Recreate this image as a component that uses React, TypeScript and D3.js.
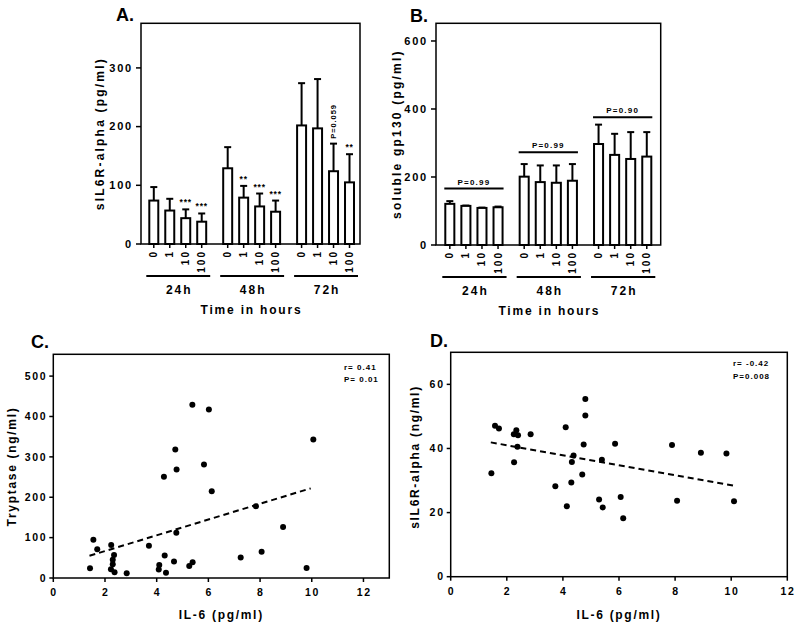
import React from "react";
import * as d3 from "d3";

// ---------- data ----------
const timepoints = ["24h", "48h", "72h"];
const concentrations = ["0", "1", "10", "100"];

const sil6rMean = [
  [74, 57, 44, 38],
  [129, 79, 64, 55],
  [202, 197, 124, 105],
];
const sil6rUpper = [
  [97, 77, 59, 52],
  [165, 99, 86, 74],
  [274, 281, 171, 153],
];
const sil6rMarks = [
  ["", "", "***", "***"],
  ["", "**", "***", "***"],
  ["", "", "P=0.059", "**"],
];
const sil6rTicks = [0, 100, 200, 300];

const gp130Mean = [
  [121, 115, 109, 111],
  [201, 185, 183, 189],
  [297, 265, 253, 260],
];
const gp130Upper = [
  [129, 116, 110, 113],
  [238, 234, 234, 238],
  [354, 327, 332, 332],
];
const gp130P = ["P=0.99", "P=0.99", "P=0.90"];
const gp130PLevel = [166, 273, 376];
const gp130Ticks = [0, 200, 400, 600];

const il6C = [1.42, 1.55, 1.7, 2.24, 2.35, 2.3, 2.3, 2.23, 2.37, 2.84, 3.7, 4.08, 4.1, 4.28, 4.31, 4.36, 4.67, 4.72, 4.77, 4.76, 5.26, 5.39, 5.38, 5.83, 6.02, 6.13, 7.25, 7.84, 8.06, 8.89, 9.8, 10.06];
const tryptase = [24, 95, 71, 82, 57, 45, 34, 21.5, 14, 12, 80, 21, 32, 251, 56, 13, 41, 318, 269, 112, 30, 39, 429, 281, 417, 215, 51, 178, 65, 126, 25, 343];
const fitCX = [1.4, 9.96];
const fitCY = [55, 222];
const tryptaseTicks = [0, 100, 200, 300, 400, 500];

const il6D = [1.58, 1.72, 2.34, 2.25, 2.4, 2.85, 2.38, 2.26, 1.45, 3.73, 4.1, 4.14, 4.3, 4.32, 4.38, 4.69, 4.74, 4.8, 4.8, 5.29, 5.39, 5.42, 5.86, 6.06, 6.15, 7.89, 8.07, 8.92, 9.83, 10.1];
const sil6rD = [47.1, 46.2, 45.7, 44.4, 44.1, 44.4, 40.5, 35.7, 32.3, 28.2, 46.6, 22.0, 29.4, 35.8, 37.8, 31.9, 41.2, 50.3, 55.4, 24.1, 36.5, 21.6, 41.5, 24.9, 18.2, 41.1, 23.7, 38.7, 38.4, 23.5];
const fitDX = [1.43, 10.08];
const fitDY = [41.9, 28.4];
const sil6rDTicks = [0, 20, 40, 60];

const il6Ticks = [0, 2, 4, 6, 8, 10, 12];

// ---------- style ----------
const FONT = "'Liberation Sans', Arial, sans-serif";

type BarProps = {
  left: number; right: number; top: number; bottom: number;
  barStart: number; barEnd: number; yMax: number; ticks: number[];
  means: number[][]; uppers: number[][];
  title: string; titleX: number; titleY: number;
  yLabel: string; yLabelX: number;
  marks?: string[][];
  pLabels?: string[]; pLevels?: number[];
};

function BarPanel(p: BarProps) {
  const y = d3.scaleLinear().domain([0, p.yMax]).range([p.bottom, p.top]);
  const gx = d3.scaleBand<string>().domain(timepoints).range([p.barStart, p.barEnd]).paddingInner(0.23).paddingOuter(0);
  const bx = d3.scaleBand<string>().domain(concentrations).range([0, gx.bandwidth()]).paddingInner(0.4375).paddingOuter(0);
  const bw = bx.bandwidth();
  const cx = (t: string, c: string) => (gx(t) as number) + (bx(c) as number) + bw / 2;
  const lineY = p.bottom + 32;
  return (
    <g fontFamily={FONT} fontWeight="bold">
      <text x={p.titleX} y={p.titleY} fontSize={18}>{p.title}</text>
      {timepoints.map((t, gi) =>
        concentrations.map((c, ci) => {
          const m = p.means[gi][ci];
          const u = p.uppers[gi][ci];
          const xc = cx(t, c);
          const mk = p.marks ? p.marks[gi][ci] : "";
          return (
            <g key={t + c}>
              <line x1={xc} x2={xc} y1={y(m)} y2={y(u)} stroke="#000" strokeWidth={2} />
              <line x1={xc - 3.5} x2={xc + 3.5} y1={y(u)} y2={y(u)} stroke="#000" strokeWidth={2} />
              <rect x={xc - bw / 2} y={y(m)} width={bw} height={p.bottom - y(m)} fill="#fff" stroke="#000" strokeWidth={2} />
              {mk && (mk.startsWith("P") ? (
                <text transform={`translate(${xc},${y(u) - 5}) rotate(-90)`} dy="0.35em" fontSize={7.5} letterSpacing={0.9} fill="#000" textAnchor="start">{mk}</text>
              ) : (
                <text x={xc} y={y(u) - 4} fontSize={8.5} letterSpacing={0.8} fill="#000" textAnchor="middle">{mk}</text>
              ))}
            </g>
          );
        })
      )}
      {p.pLabels && p.pLevels && timepoints.map((t, gi) => {
        const x1 = gx(t) as number;
        const x2 = x1 + gx.bandwidth();
        const yy = y(p.pLevels![gi]);
        return (
          <g key={"p" + t}>
            <line x1={x1 - 1} x2={x2 + 1} y1={yy} y2={yy} stroke="#000" strokeWidth={2} />
            <text x={(x1 + x2) / 2} y={yy - 4} fontSize={8} letterSpacing={1.2} textAnchor="middle">{p.pLabels![gi]}</text>
          </g>
        );
      })}
      <rect x={p.left} y={p.top} width={p.right - p.left} height={p.bottom - p.top} fill="none" stroke="#000" strokeWidth={1.5} />
      {p.ticks.map((v) => (
        <g key={"yt" + v}>
          <line x1={p.left - 5} x2={p.left} y1={y(v)} y2={y(v)} stroke="#000" strokeWidth={1.5} />
          <text x={p.left - 8} y={y(v)} dy="0.35em" fontSize={11} letterSpacing={1.8} textAnchor="end">{v}</text>
        </g>
      ))}
      {timepoints.map((t) =>
        concentrations.map((c) => {
          const xc = cx(t, c);
          return (
            <g key={"xt" + t + c}>
              <line x1={xc} x2={xc} y1={p.bottom} y2={p.bottom + 4} stroke="#000" strokeWidth={1.5} />
              <text transform={`translate(${xc},${p.bottom + 6}) rotate(-90)`} dy="0.35em" fontSize={10} letterSpacing={2} textAnchor="end">{c}</text>
            </g>
          );
        })
      )}
      {timepoints.map((t) => {
        const x1 = (gx(t) as number) - 3;
        const x2 = (gx(t) as number) + gx.bandwidth() + 4;
        return (
          <g key={"gl" + t}>
            <line x1={x1} x2={x2} y1={lineY} y2={lineY} stroke="#000" strokeWidth={2} />
            <text x={(x1 + x2) / 2 + 1} y={lineY + 18} fontSize={12} letterSpacing={2} textAnchor="middle">{t}</text>
          </g>
        );
      })}
      <text x={(p.left + p.right) / 2 + 1} y={p.bottom + 70} fontSize={12} letterSpacing={1.8} textAnchor="middle">Time in hours</text>
      <text transform={`translate(${p.yLabelX},${(p.top + p.bottom) / 2}) rotate(-90)`} dy="0.35em" fontSize={12} letterSpacing={2.2} textAnchor="middle">{p.yLabel}</text>
    </g>
  );
}

type ScatterProps = {
  left: number; right: number; top: number; bottom: number;
  xMax: number; yMax: number; yTicks: number[];
  xs: number[]; ys: number[]; fitX: number[]; fitY: number[];
  title: string; titleX: number; titleY: number;
  yLabel: string; yLabelX: number; yLabelY: number;
  ann: string[]; annX: number; annY: number;
};

function ScatterPanel(p: ScatterProps) {
  const x = d3.scaleLinear().domain([0, p.xMax]).range([p.left, p.right]);
  const y = d3.scaleLinear().domain([0, p.yMax]).range([p.bottom, p.top]);
  const fit = d3.line<number>().x((d) => x(p.fitX[d])).y((d) => y(p.fitY[d]));
  return (
    <g fontFamily={FONT} fontWeight="bold">
      <text x={p.titleX} y={p.titleY} fontSize={18}>{p.title}</text>
      <rect x={p.left} y={p.top} width={p.right - p.left} height={p.bottom - p.top} fill="none" stroke="#000" strokeWidth={1.5} />
      {p.yTicks.map((v) => (
        <g key={"yt" + v}>
          <line x1={p.left - 4} x2={p.left} y1={y(v)} y2={y(v)} stroke="#000" strokeWidth={1.5} />
          <text x={p.left - 6} y={y(v)} dy="0.35em" fontSize={10.5} letterSpacing={1.7} textAnchor="end">{v}</text>
        </g>
      ))}
      {il6Ticks.map((v) => (
        <g key={"xt" + v}>
          <line x1={x(v)} x2={x(v)} y1={p.bottom} y2={p.bottom + 4} stroke="#000" strokeWidth={1.5} />
          <text x={x(v) + 0.8} y={p.bottom + 18} fontSize={10.5} letterSpacing={1.7} textAnchor="middle">{v}</text>
        </g>
      ))}
      {p.xs.map((v, i) => (
        <circle key={"pt" + i} cx={x(v)} cy={y(p.ys[i])} r={3} fill="#000" />
      ))}
      <path d={fit([0, 1]) || ""} fill="none" stroke="#000" strokeWidth={2} strokeDasharray="6 4" />
      {p.ann.map((s, i) => (
        <text key={"an" + i} x={p.annX} y={p.annY + i * 12.5} fontSize={8} letterSpacing={1}>{s}</text>
      ))}
      <text x={(p.left + p.right) / 2} y={619} fontSize={12} letterSpacing={1.7} textAnchor="middle">IL-6 (pg/ml)</text>
      <text transform={`translate(${p.yLabelX},${p.yLabelY}) rotate(-90)`} dy="0.35em" fontSize={12} letterSpacing={1.7} textAnchor="middle">{p.yLabel}</text>
    </g>
  );
}

export default function App() {
  return (
    <svg width={800} height={629} style={{ position: "absolute", left: 0, top: 0, background: "#fff" }}>
      <rect x={0} y={0} width={800} height={629} fill="#fff" />
      <BarPanel left={141} right={360} top={23.3} bottom={244} barStart={149.3} barEnd={354} yMax={376}
        ticks={sil6rTicks} means={sil6rMean} uppers={sil6rUpper} marks={sil6rMarks}
        title="A." titleX={116} titleY={20.5} yLabel="sIL6R-alpha (pg/ml)" yLabelX={100} />
      <BarPanel left={436} right={660.7} top={23.3} bottom={245} barStart={445.3} barEnd={651.3} yMax={652}
        ticks={gp130Ticks} means={gp130Mean} uppers={gp130Upper} pLabels={gp130P} pLevels={gp130PLevel}
        title="B." titleX={410} titleY={21.5} yLabel="soluble gp130 (pg/ml)" yLabelX={397} />
      <ScatterPanel left={53.3} right={389.3} top={354.3} bottom={578} xMax={13} yMax={554} yTicks={tryptaseTicks}
        xs={il6C} ys={tryptase} fitX={fitCX} fitY={fitCY}
        title="C." titleX={31} titleY={348.3} yLabel="Tryptase (ng/ml)" yLabelX={12} yLabelY={466.5}
        ann={["r= 0.41", "P= 0.01"]} annX={344} annY={369.5} />
      <ScatterPanel left={450.7} right={787.3} top={352.3} bottom={576.7} xMax={12} yMax={70} yTicks={sil6rDTicks}
        xs={il6D} ys={sil6rD} fitX={fitDX} fitY={fitDY}
        title="D." titleX={430} titleY={347} yLabel="sIL6R-alpha (ng/ml)" yLabelX={415} yLabelY={457}
        ann={["r= -0.42", "P=0.008"]} annX={733} annY={366} />
    </svg>
  );
}
